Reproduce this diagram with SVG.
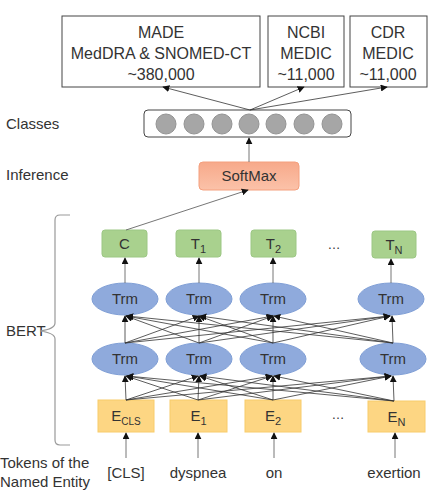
<svg xmlns="http://www.w3.org/2000/svg" width="430" height="490" viewBox="0 0 430 490">
<defs>
<marker id="ah" viewBox="0 0 10 10" refX="9" refY="5" markerWidth="7" markerHeight="7" markerUnits="userSpaceOnUse" orient="auto">
<path d="M0,0 L10,5 L0,10 z" fill="#111"/>
</marker>
<linearGradient id="gsm" x1="0" y1="0" x2="0" y2="1"><stop offset="0" stop-color="#f7a98a"/><stop offset="1" stop-color="#fbc2a9"/></linearGradient>
</defs>
<style>
text{font-family:"Liberation Sans",Arial,sans-serif;fill:#333;}
.lbl{font-size:15px;}
.big{font-size:16px;}
.c{text-anchor:middle;}
.box{fill:#fff;stroke:#444;stroke-width:1;}
.green{fill:#a9d18e;stroke:#9cc784;stroke-width:1;}
.trm{fill:#8faadc;stroke:#809fd6;stroke-width:1;}
.emb{fill:#fdd683;stroke:#f8cc6a;stroke-width:1;}
.circ{fill:#a6a6a6;stroke:#949494;stroke-width:1;}
.ln{stroke:#333;stroke-width:0.8;fill:none;marker-end:url(#ah);}
.gl{stroke:#666;stroke-width:0.9;fill:none;marker-end:url(#ah);}
.brace{stroke:#999;stroke-width:1.2;fill:none;}
</style>

<g id="labels">
<text class="lbl" x="6" y="129">Classes</text>
<text class="lbl" x="6" y="180">Inference</text>
<text class="lbl" x="6" y="336">BERT</text>
<text class="lbl" x="0" y="468">Tokens of the</text>
<text class="lbl" x="0" y="487">Named Entity</text>
<path class="brace" d="M70,215 L60,215 Q55,215 55,220 L55,323 Q55,329 40,331 Q55,333 55,339 L55,440 Q55,445 60,445 L70,445"/>
</g>

<g id="made">
<rect class="box" x="62" y="16" width="198" height="71"/>
<text class="big c" x="161" y="38">MADE</text>
<text class="big c" x="161" y="59">MedDRA &amp; SNOMED-CT</text>
<text class="big c" x="161" y="80">~380,000</text>
</g>
<g id="ncbi">
<rect class="box" x="268" y="16" width="76" height="71"/>
<text class="big c" x="306" y="38">NCBI</text>
<text class="big c" x="306" y="59">MEDIC</text>
<text class="big c" x="306" y="80">~11,000</text>
</g>
<g id="cdr">
<rect class="box" x="350" y="16" width="77" height="71"/>
<text class="big c" x="388" y="38">CDR</text>
<text class="big c" x="388" y="59">MEDIC</text>
<text class="big c" x="388" y="80">~11,000</text>
</g>

<g id="classes">
<rect class="box" x="144" y="110" width="207" height="27" rx="4"/>
<circle class="circ" cx="166" cy="124" r="10"/>
<circle class="circ" cx="194" cy="124" r="10"/>
<circle class="circ" cx="222" cy="124" r="10"/>
<circle class="circ" cx="249" cy="124" r="10"/>
<circle class="circ" cx="276" cy="124" r="10"/>
<circle class="circ" cx="304" cy="124" r="10"/>
<circle class="circ" cx="332" cy="124" r="10"/>
</g>

<g id="softmax">
<rect x="199" y="162" width="100" height="28" rx="4" fill="url(#gsm)" stroke="#f4a07e"/>
<text class="lbl c" x="249" y="181">SoftMax</text>
</g>

<g id="C"><rect class="green" x="102" y="230" width="45" height="27" rx="3"/><text class="lbl c" x="124.5" y="249">C</text></g>
<g id="T1"><rect class="green" x="176" y="230" width="45" height="27" rx="3"/><text class="lbl c" x="198.5" y="249">T<tspan font-size="11" dy="4">1</tspan></text></g>
<g id="T2"><rect class="green" x="251" y="230" width="45" height="27" rx="3"/><text class="lbl c" x="273.5" y="249">T<tspan font-size="11" dy="4">2</tspan></text></g>
<g id="TN"><rect class="green" x="372" y="231" width="44" height="27" rx="3"/><text class="lbl c" x="394" y="250">T<tspan font-size="11" dy="4">N</tspan></text></g>
<text class="c" x="334" y="249" font-size="13">…</text>

<g id="trm1a"><ellipse class="trm" cx="125" cy="299" rx="33" ry="16"/><text class="lbl c" x="125" y="304">Trm</text></g>
<g id="trm1b"><ellipse class="trm" cx="199" cy="299" rx="33" ry="16"/><text class="lbl c" x="199" y="304">Trm</text></g>
<g id="trm1c"><ellipse class="trm" cx="273" cy="299" rx="33" ry="16"/><text class="lbl c" x="273" y="304">Trm</text></g>
<g id="trm1d"><ellipse class="trm" cx="391" cy="299" rx="33" ry="16"/><text class="lbl c" x="391" y="304">Trm</text></g>

<g id="trm2a"><ellipse class="trm" cx="125" cy="359" rx="33" ry="16"/><text class="lbl c" x="125" y="364">Trm</text></g>
<g id="trm2b"><ellipse class="trm" cx="199" cy="359" rx="33" ry="16"/><text class="lbl c" x="199" y="364">Trm</text></g>
<g id="trm2c"><ellipse class="trm" cx="273" cy="359" rx="33" ry="16"/><text class="lbl c" x="273" y="364">Trm</text></g>
<g id="trm2d"><ellipse class="trm" cx="393" cy="359" rx="33" ry="16"/><text class="lbl c" x="393" y="364">Trm</text></g>

<g id="Ecls"><rect class="emb" x="98" y="400" width="56" height="32"/><text class="lbl c" x="126" y="421">E<tspan font-size="10" dy="4">CLS</tspan></text></g>
<g id="E1"><rect class="emb" x="170" y="400" width="57" height="32"/><text class="lbl c" x="198.5" y="421">E<tspan font-size="11" dy="4">1</tspan></text></g>
<g id="E2"><rect class="emb" x="245" y="400" width="56" height="32"/><text class="lbl c" x="273" y="421">E<tspan font-size="11" dy="4">2</tspan></text></g>
<g id="EN"><rect class="emb" x="368" y="401" width="57" height="31"/><text class="lbl c" x="396.5" y="422">E<tspan font-size="11" dy="4">N</tspan></text></g>
<text class="c" x="338" y="419" font-size="13">…</text>

<g id="tokens">
<text class="lbl c" x="126" y="478">[CLS]</text>
<text class="lbl c" x="198" y="478">dyspnea</text>
<text class="lbl c" x="274" y="478">on</text>
<text class="lbl c" x="394" y="478">exertion</text>
</g>

<g id="connectors">
<line class="ln" x1="250" y1="110" x2="163" y2="87"/>
<line class="ln" x1="250" y1="110" x2="304" y2="87"/>
<line class="ln" x1="250" y1="110" x2="387" y2="87"/>
<line class="gl" x1="249" y1="162" x2="249" y2="138"/>
<line class="gl" x1="126" y1="230" x2="248" y2="190"/>

<line class="gl" x1="125" y1="283" x2="125" y2="258"/>
<line class="gl" x1="199" y1="283" x2="199" y2="258"/>
<line class="gl" x1="273" y1="283" x2="273" y2="258"/>
<line class="gl" x1="391" y1="283" x2="391" y2="259"/>

<line class="ln" x1="125" y1="343" x2="125" y2="316"/>
<line class="ln" x1="125" y1="343" x2="199" y2="316"/>
<line class="ln" x1="125" y1="343" x2="273" y2="316"/>
<line class="ln" x1="125" y1="343" x2="390" y2="316"/>
<line class="ln" x1="199" y1="343" x2="126" y2="316"/>
<line class="ln" x1="199" y1="343" x2="199" y2="316"/>
<line class="ln" x1="199" y1="343" x2="273" y2="316"/>
<line class="ln" x1="199" y1="343" x2="390" y2="316"/>
<line class="ln" x1="273" y1="343" x2="126" y2="316"/>
<line class="ln" x1="273" y1="343" x2="199" y2="316"/>
<line class="ln" x1="273" y1="343" x2="273" y2="316"/>
<line class="ln" x1="273" y1="343" x2="390" y2="316"/>
<line class="ln" x1="393" y1="343" x2="127" y2="316"/>
<line class="ln" x1="393" y1="343" x2="200" y2="316"/>
<line class="ln" x1="393" y1="343" x2="274" y2="316"/>
<line class="ln" x1="393" y1="343" x2="392" y2="316"/>

<line class="ln" x1="126" y1="400" x2="125" y2="376"/>
<line class="ln" x1="126" y1="400" x2="198" y2="376"/>
<line class="ln" x1="126" y1="400" x2="272" y2="376"/>
<line class="ln" x1="126" y1="400" x2="391" y2="376"/>
<line class="ln" x1="198" y1="400" x2="126" y2="376"/>
<line class="ln" x1="198" y1="400" x2="199" y2="376"/>
<line class="ln" x1="198" y1="400" x2="272" y2="376"/>
<line class="ln" x1="198" y1="400" x2="391" y2="376"/>
<line class="ln" x1="273" y1="400" x2="127" y2="376"/>
<line class="ln" x1="273" y1="400" x2="200" y2="376"/>
<line class="ln" x1="273" y1="400" x2="273" y2="376"/>
<line class="ln" x1="273" y1="400" x2="391" y2="376"/>
<line class="ln" x1="394" y1="401" x2="127" y2="376"/>
<line class="ln" x1="394" y1="401" x2="200" y2="376"/>
<line class="ln" x1="394" y1="401" x2="274" y2="376"/>
<line class="ln" x1="394" y1="401" x2="393" y2="376"/>

<line class="gl" x1="126" y1="458" x2="126" y2="433"/>
<line class="gl" x1="198" y1="458" x2="198" y2="433"/>
<line class="gl" x1="274" y1="458" x2="274" y2="433"/>
<line class="gl" x1="395" y1="458" x2="395" y2="433"/>
</g>
</svg>
